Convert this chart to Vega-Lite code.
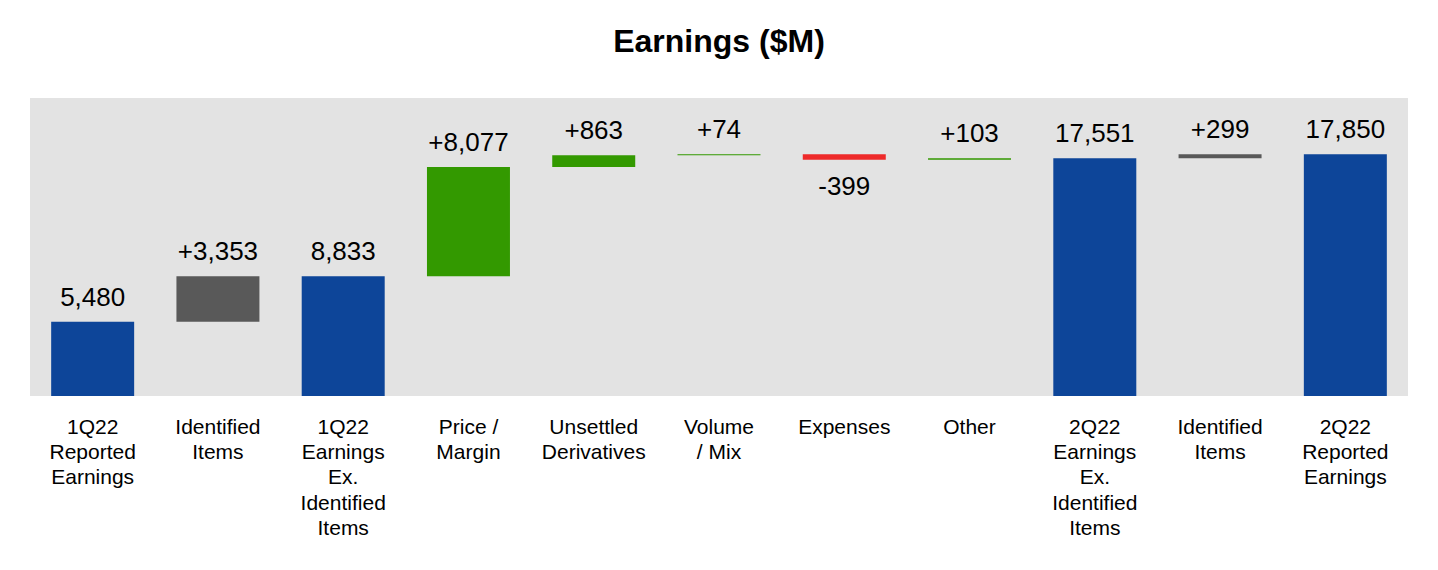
{
  "$schema": "https://vega.github.io/schema/vega-lite/v6.json",
  "width": 1378,
  "height": 298,
  "autosize": "none",
  "padding": {"left": 30, "top": 98, "right": 30, "bottom": 174},
  "background": "white",
  "title": {
    "text": "Earnings ($M)",
    "font": "Liberation Sans",
    "fontSize": 32,
    "fontWeight": "bold",
    "color": "black",
    "anchor": "middle",
    "baseline": "alphabetic",
    "offset": 14
  },
  "data": {
    "values": [
      {"cat": "01|1Q22|Reported|Earnings", "start": 0, "end": 5480, "delta": 5480, "kind": "total", "label": "5,480"},
      {"cat": "02|Identified|Items", "start": 5480, "end": 8833, "delta": 3353, "kind": "items", "label": "+3,353"},
      {"cat": "03|1Q22|Earnings|Ex.|Identified|Items", "start": 0, "end": 8833, "delta": 8833, "kind": "total", "label": "8,833"},
      {"cat": "04|Price /|Margin", "start": 8833, "end": 16910, "delta": 8077, "kind": "up", "label": "+8,077"},
      {"cat": "05|Unsettled|Derivatives", "start": 16910, "end": 17773, "delta": 863, "kind": "up", "label": "+863"},
      {"cat": "06|Volume|/ Mix", "start": 17773, "end": 17847, "delta": 74, "kind": "up", "label": "+74"},
      {"cat": "07|Expenses", "start": 17847, "end": 17448, "delta": -399, "kind": "down", "label": "-399"},
      {"cat": "08|Other", "start": 17448, "end": 17551, "delta": 103, "kind": "up", "label": "+103"},
      {"cat": "09|2Q22|Earnings|Ex.|Identified|Items", "start": 0, "end": 17551, "delta": 17551, "kind": "total", "label": "17,551"},
      {"cat": "10|Identified|Items", "start": 17551, "end": 17850, "delta": 299, "kind": "items", "label": "+299"},
      {"cat": "11|2Q22|Reported|Earnings", "start": 0, "end": 17850, "delta": 17850, "kind": "total", "label": "17,850"}
    ]
  },
  "encoding": {
    "x": {
      "field": "cat",
      "type": "nominal",
      "sort": null,
      "title": null,
      "scale": {"paddingInner": 0.3375, "paddingOuter": 0.169},
      "axis": {
        "labelExpr": "slice(split(datum.value, '|'), 1)",
        "labelAngle": 0,
        "labelFont": "Liberation Sans",
        "labelFontSize": 21,
        "labelColor": "black",
        "labelLineHeight": 25.4,
        "labelBaseline": "top",
        "labelPadding": 20,
        "labelLimit": 300,
        "labelOverlap": false,
        "domain": false,
        "ticks": false,
        "grid": false
      }
    }
  },
  "layer": [
    {
      "mark": {"type": "bar"},
      "encoding": {
        "y": {
          "field": "start",
          "type": "quantitative",
          "scale": {"domain": [0, 22000], "nice": false, "zero": true},
          "axis": null
        },
        "y2": {"field": "end"},
        "color": {
          "field": "kind",
          "type": "nominal",
          "scale": {
            "domain": ["total", "items", "up", "down"],
            "range": ["#0d4599", "#595959", "#339900", "#ee2a2a"]
          },
          "legend": null
        }
      }
    },
    {
      "transform": [{"filter": "datum.delta >= 0"}],
      "mark": {
        "type": "text",
        "font": "Liberation Sans",
        "fontSize": 26,
        "color": "black",
        "baseline": "alphabetic",
        "dy": -16
      },
      "encoding": {
        "y": {"field": "end", "type": "quantitative"},
        "text": {"field": "label"}
      }
    },
    {
      "transform": [{"filter": "datum.delta < 0"}],
      "mark": {
        "type": "text",
        "font": "Liberation Sans",
        "fontSize": 26,
        "color": "black",
        "baseline": "alphabetic",
        "dy": 35
      },
      "encoding": {
        "y": {"field": "end", "type": "quantitative"},
        "text": {"field": "label"}
      }
    }
  ],
  "config": {
    "view": {"fill": "#e3e3e3", "stroke": null}
  }
}
